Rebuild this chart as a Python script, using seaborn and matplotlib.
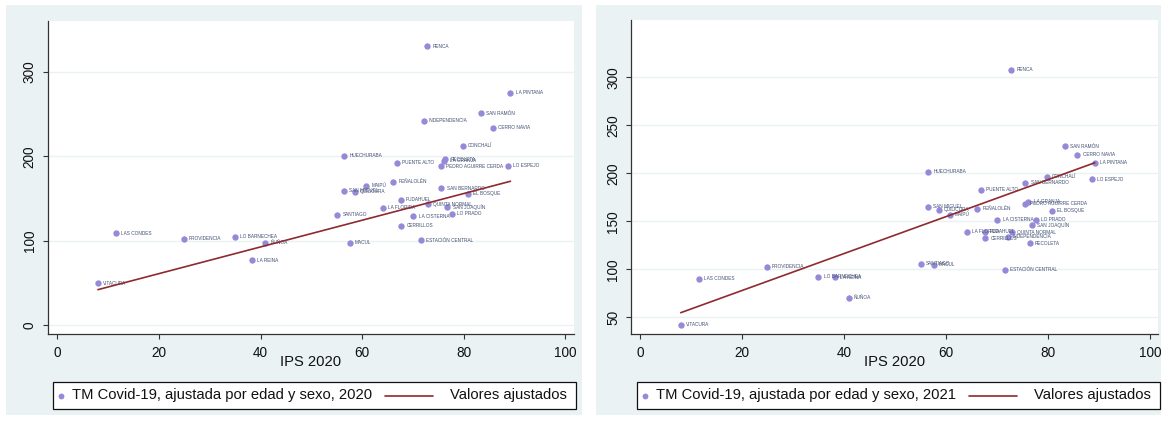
import numpy as np
import pandas as pd
import matplotlib
matplotlib.use("Agg")
import matplotlib.pyplot as plt
from matplotlib.patches import Rectangle
from matplotlib.lines import Line2D
import seaborn as sns

# ---- data -------------------------------------------------------------
comunas = [
    "VITACURA", "LAS CONDES", "PROVIDENCIA", "LO BARNECHEA", "LA REINA", "ÑUÑOA",
    "SANTIAGO", "MACUL", "ESTACIÓN CENTRAL", "CERRILLOS", "LA CISTERNA", "LA FLORIDA",
    "PUDAHUEL", "QUINTA NORMAL", "SAN JOAQUÍN", "LO PRADO", "EL BOSQUE", "SAN BERNARDO",
    "PEÑALOLÉN", "MAIPÚ", "SAN MIGUEL", "QUILICURA", "HUECHURABA", "PUENTE ALTO",
    "RECOLETA", "LA GRANJA", "PEDRO AGUIRRE CERDA", "LO ESPEJO", "CONCHALÍ",
    "INDEPENDENCIA", "SAN RAMÓN", "CERRO NAVIA", "LA PINTANA", "RENCA",
]
ips_2020 = [
    8.0, 11.6, 24.9, 35.0, 38.3, 40.9,
    55.1, 57.6, 71.6, 67.7, 70.1, 64.1,
    67.6, 73.0, 76.8, 77.6, 80.8, 75.6,
    66.1, 60.8, 56.5, 58.6, 56.5, 66.9,
    76.4, 76.2, 75.5, 88.7, 79.8,
    72.1, 83.4, 85.8, 89.2, 72.8,
]
tm_2020 = [
    49.5, 108.8, 102.0, 104.8, 76.7, 97.3,
    130.5, 97.7, 100.4, 117.8, 128.9, 139.2,
    148.3, 143.2, 140.0, 132.0, 155.4, 162.0,
    170.0, 165.0, 159.3, 157.8, 200.9, 192.2,
    196.5, 194.8, 188.0, 189.0, 212.7,
    242.3, 251.0, 234.0, 275.6, 330.6,
]
tm_2021 = [
    42.0, 89.9, 102.7, 92.3, 91.7, 70.4,
    105.8, 104.8, 99.3, 132.3, 151.4, 139.2,
    139.2, 138.5, 146.2, 151.4, 161.0, 189.9,
    163.1, 156.9, 164.9, 161.8, 201.7, 182.9,
    127.0, 170.4, 168.3, 194.0, 196.5,
    134.0, 228.4, 219.4, 211.0, 307.9,
]
# fitted values ("Valores ajustados") at the lowest and highest IPS
fit_ips = [8.0, 89.2]
fit_2020 = [41.9, 170.5]
fit_2021 = [54.8, 211.0]

x_label = "IPS 2020"
serie_labels = ["TM Covid-19, ajustada por edad y sexo, 2020",
                "TM Covid-19, ajustada por edad y sexo, 2021"]
fit_label = "Valores ajustados"
x_ticks = [0, 20, 40, 60, 80, 100]
y_ticks_2020 = [0, 100, 200, 300]
y_ticks_2021 = [50, 100, 150, 200, 250, 300]

df = pd.DataFrame({"comuna": comunas, "ips": ips_2020,
                   "tm2020": tm_2020, "tm2021": tm_2021})
fits = {"tm2020": fit_2020, "tm2021": fit_2021}

# ---- style ------------------------------------------------------------
sns.set_theme(style="white")
plt.rcParams["font.family"] = ["Liberation Sans", "DejaVu Sans"]

BG = "#EAF2F3"
MARKER = "#968ad8"
LABEL = "#3f4e72"
FIT = "#8e2a30"
W, H = 1166, 425

fig = plt.figure(figsize=(W / 100, H / 100), dpi=100, facecolor="white")


def fx(px):
    return px / W


def fy(py):
    return 1 - py / H


# panel backgrounds
for x0, x1 in [(6, 582), (596, 1161)]:
    fig.patches.append(Rectangle((fx(x0), fy(415)), fx(x1 - x0), (415 - 5) / H,
                                 transform=fig.transFigure, facecolor=BG,
                                 edgecolor="none", zorder=-10))

panels = [
    dict(box=(48, 21, 574, 334), ycol="tm2020", xlim=(-1.83, 101.7),
         ylim=(-10.7, 360.6), yticks=y_ticks_2020, legend=(53, 576),
         label=serie_labels[0]),
    dict(box=(631.3, 20, 1158, 334), ycol="tm2021", xlim=(-1.7, 101.6),
         ylim=(32.6, 359.7), yticks=y_ticks_2021, legend=(637, 1160),
         label=serie_labels[1]),
]

for p in panels:
    x0, yt, x1, yb = p["box"]
    ax = fig.add_axes([fx(x0), fy(yb), fx(x1 - x0), (yb - yt) / H])
    ax.set_zorder(5)
    ax.set_facecolor("white")

    sns.scatterplot(data=df, x="ips", y=p["ycol"], ax=ax, color=MARKER, s=21,
                    linewidth=0, legend=False, zorder=2)
    sns.lineplot(x=fit_ips, y=fits[p["ycol"]], ax=ax, color=FIT, lw=1.2,
                 zorder=3, legend=False)

    for _, r in df.iterrows():
        ax.annotate(r["comuna"], (r["ips"], r[p["ycol"]]), xytext=(3.7, 0),
                    textcoords="offset points", va="center", ha="left",
                    fontsize=3.4, color=LABEL, zorder=2.5)

    ax.set_xlim(*p["xlim"])
    ax.set_ylim(*p["ylim"])
    ax.set_xticks(x_ticks)
    ax.set_yticks(p["yticks"])
    ax.yaxis.grid(True, color=BG, lw=1.0)
    ax.set_axisbelow(True)
    for s in ["top", "right"]:
        ax.spines[s].set_visible(False)
    for s in ["left", "bottom"]:
        ax.spines[s].set_color("#333333")
        ax.spines[s].set_linewidth(0.9)
    ax.tick_params(axis="both", direction="out", length=3.6, width=0.8,
                   color="#333333", labelsize=9.8, labelcolor="#111111",
                   left=True, bottom=True)
    ax.tick_params(axis="x", pad=5)
    ax.tick_params(axis="y", pad=4.5)
    for t in ax.get_yticklabels():
        t.set_rotation(90)
        t.set_va("center")
    ax.set_xlabel("")
    ax.set_ylabel("")

    # x axis title
    fig.text(fx((x0 + x1) / 2), fy(362), x_label, ha="center", va="center",
             fontsize=10.6, color="#111111")

    # legend box below the plot
    lx0, lx1 = p["legend"]
    fig.patches.append(Rectangle((fx(lx0), fy(409)), fx(lx1 - lx0), 27 / H,
                                 transform=fig.transFigure, facecolor="white",
                                 edgecolor="#111111", lw=0.9, zorder=1))
    ymid = fy(395.5)
    fig.add_artist(Line2D([fx(lx0 + 8)], [ymid], marker="o", ms=4.2,
                          color=MARKER, mec="none", lw=0,
                          transform=fig.transFigure, zorder=2))
    fig.text(fx(lx0 + 19), ymid, p["label"], ha="left", va="center",
             fontsize=10.6, color="#111111", zorder=2)
    fig.add_artist(Line2D([fx(lx0 + 332), fx(lx0 + 380)], [ymid, ymid],
                          color=FIT, lw=1.2, transform=fig.transFigure, zorder=2))
    fig.text(fx(lx1 - 9), ymid, fit_label, ha="right", va="center",
             fontsize=10.6, color="#111111", zorder=2)

fig.savefig("out.png", dpi=100, facecolor="white")
